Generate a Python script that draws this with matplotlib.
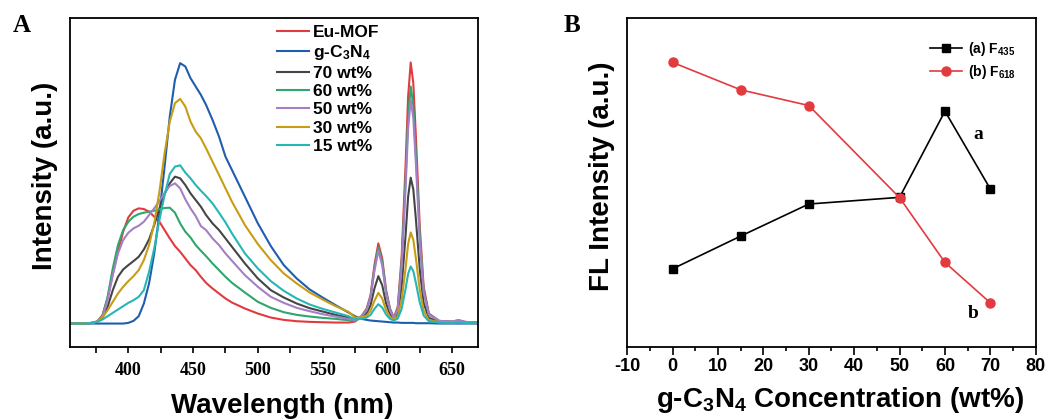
import matplotlib
matplotlib.use("Agg")
import matplotlib.pyplot as plt
from matplotlib.ticker import MultipleLocator

plt.rcParams["font.family"] = ["Liberation Sans", "DejaVu Sans"]
plt.rcParams["font.weight"] = "bold"
plt.rcParams["axes.unicode_minus"] = False
plt.rcParams["mathtext.fontset"] = "custom"
plt.rcParams["mathtext.rm"] = "Liberation Sans:bold"
plt.rcParams["mathtext.it"] = "Liberation Sans:bold"
plt.rcParams["mathtext.bf"] = "Liberation Sans:bold"

# ---- panel A: emission spectra (a.u.) ----
wavelength = [355, 365, 372, 376, 380, 384, 388, 392, 396, 400, 404, 408, 412, 416,
              420, 424, 428, 432, 436, 440, 444, 448, 452, 456, 460, 465, 470, 475,
              480, 490, 500, 510, 520, 530, 540, 550, 560, 570,
              575, 580, 584, 587, 590, 593, 596, 599, 602, 605, 608, 611, 614, 616,
              618, 620, 622, 625, 628, 632, 640, 650, 655, 660, 670]

eu_mof = [0, 0, 2, 6, 25, 75, 150, 215, 275, 318, 338, 345, 343, 335,
          320, 305, 280, 255, 232, 215, 195, 175, 160, 140, 122, 105, 90, 75,
          63, 45, 30, 18, 11, 7, 5, 4, 3, 3,
          6, 22, 45, 85, 175, 240, 195, 100, 45, 18, 50, 200, 470, 680,
          782, 720, 560, 290, 110, 30, 8, 6, 10, 5, 3]
g_c3n4 = [0, 0, 0, 0, 0, 0, 0, 0, 0, 2, 8, 22, 60, 120,
          210, 330, 470, 620, 730, 780, 770, 735, 710, 685, 655, 610, 560, 500,
          460, 380, 300, 232, 175, 135, 102, 78, 55, 33,
          22, 14, 11, 9, 8, 7, 6, 5, 4, 3, 3, 2, 2, 2,
          2, 2, 1, 1, 1, 1, 0, 0, 0, 0, 0]
wt70 = [0, 0, 2, 6, 18, 50, 100, 140, 162, 175, 187, 200, 222, 252,
        295, 345, 388, 420, 440, 435, 415, 390, 370, 350, 325, 300, 280, 255,
        230, 180, 135, 100, 78, 60, 46, 36, 26, 18,
        12, 20, 30, 55, 105, 142, 115, 60, 28, 14, 30, 111, 262, 380,
        437, 402, 313, 162, 61, 17, 5, 4, 6, 3, 2]
wt60 = [0, 0, 2, 6, 22, 80, 165, 235, 280, 305, 320, 328, 332, 335,
        338, 342, 346, 347, 332, 300, 275, 258, 235, 218, 202, 180, 160, 140,
        122, 93, 65, 47, 34, 26, 21, 17, 14, 10,
        8, 20, 42, 80, 165, 228, 185, 95, 42, 17, 45, 181, 426, 618,
        710, 653, 508, 263, 99, 28, 7, 5, 8, 4, 2]
wt50 = [0, 0, 2, 6, 20, 70, 145, 210, 250, 272, 285, 293, 305, 325,
        345, 367, 392, 412, 420, 405, 372, 345, 322, 292, 280, 255, 235, 210,
        188, 145, 110, 80, 62, 47, 37, 28, 21, 14,
        10, 22, 40, 78, 158, 218, 175, 90, 40, 17, 43, 171, 402, 583,
        670, 616, 480, 248, 94, 27, 8, 6, 10, 5, 3]
wt30 = [0, 0, 2, 6, 18, 40, 65, 90, 110, 127, 142, 160, 190, 235,
        300, 395, 510, 605, 660, 673, 650, 605, 575, 555, 525, 485, 445, 405,
        365, 295, 238, 190, 150, 120, 93, 72, 52, 35,
        18, 18, 24, 38, 68, 92, 75, 40, 20, 12, 22, 70, 164, 238,
        273, 251, 195, 101, 38, 11, 4, 3, 4, 2, 1]
wt15 = [0, 0, 2, 5, 12, 22, 32, 42, 52, 62, 70, 80, 100, 155,
        225, 310, 385, 448, 470, 474, 452, 435, 415, 398, 382, 360, 332, 303,
        270, 210, 165, 127, 98, 75, 57, 44, 33, 22,
        12, 14, 18, 26, 44, 58, 48, 27, 14, 9, 15, 44, 103, 149,
        171, 157, 122, 63, 24, 7, 3, 2, 3, 2, 1]

spectra = [eu_mof, g_c3n4, wt70, wt60, wt50, wt30, wt15]
spectra_labels = ["Eu-MOF", "g-C$_3$N$_4$", "70 wt%", "60 wt%", "50 wt%", "30 wt%", "15 wt%"]
spectra_colors = ["#E23B3F", "#1F5DAE", "#454545", "#2EA66C", "#A47FC6", "#C89D14", "#27B6B6"]

# ---- panel B: FL intensity vs g-C3N4 loading ----
conc = [0, 15, 30, 50, 60, 70]
f435 = [234, 332, 428, 448, 706, 473]
f618 = [852, 770, 723, 447, 253, 132]

fig = plt.figure(figsize=(10.5, 4.2), dpi=100)
ax1 = fig.add_axes([0.0667, 0.174, 0.3886, 0.783])
ax2 = fig.add_axes([0.5974, 0.174, 0.3890, 0.783])

for y, lab, col in zip(spectra, spectra_labels, spectra_colors):
    ax1.plot(wavelength, y, color=col, lw=1.5, label=lab)

ax1.set_xlim(355, 670)
ax1.set_ylim(-70, 915)
ax1.xaxis.set_major_locator(MultipleLocator(50))
ax1.xaxis.set_minor_locator(MultipleLocator(25))
ax1.tick_params(axis="x", which="both", direction="out", length=4, width=1.2, pad=7)
ax1.set_yticks([])
for lbl in ax1.get_xticklabels():
    lbl.set_fontfamily("Liberation Serif")
    lbl.set_fontweight("bold")
    lbl.set_fontsize(13)
ax1.set_xlabel("Wavelength (nm)", fontsize=20, fontweight="bold")
ax1.set_ylabel("Intensity (a.u.)", fontsize=20, fontweight="bold")
ax1.xaxis.set_label_coords(0.519, -0.14)
ax1.yaxis.set_label_coords(-0.03, 0.52)
ax1.legend(loc="upper left", bbox_to_anchor=(0.2635, 0.94), bbox_transform=fig.transFigure,
           frameon=False, fontsize=12.5, handlelength=1.85, handletextpad=0.25,
           labelspacing=0.18, borderpad=0, borderaxespad=0)

ax2.plot(conc, f435, color="black", lw=1.2, marker="s", ms=5.5, label="(a) F$_{435}$")
ax2.plot(conc, f618, color="#E23B3F", lw=1.2, marker="o", ms=6.5, label="(b) F$_{618}$")
ax2.set_xlim(-10, 80)
ax2.set_ylim(0, 985)
ax2.xaxis.set_major_locator(MultipleLocator(10))
ax2.xaxis.set_minor_locator(MultipleLocator(5))
ax2.tick_params(axis="x", which="major", direction="out", length=6, width=1.2, pad=2, labelsize=13)
ax2.tick_params(axis="x", which="minor", direction="out", length=3, width=1.2)
for lbl in ax2.get_xticklabels():
    lbl.set_fontweight("bold")
ax2.set_yticks([])
ax2.set_xlabel("g-C$_3$N$_4$ Concentration (wt%)", fontsize=20, fontweight="bold")
ax2.set_ylabel("FL Intensity (a.u.)", fontsize=20, fontweight="bold")
ax2.xaxis.set_label_coords(0.521, -0.115)
ax2.yaxis.set_label_coords(-0.030, 0.52)
ax2.legend(loc="upper left", bbox_to_anchor=(0.8857, 0.904), bbox_transform=fig.transFigure,
           frameon=False, fontsize=10, handlelength=2.3, handletextpad=0.45,
           labelspacing=0.35, borderpad=0, borderaxespad=0, numpoints=1)
ax2.text(67.4, 635, "a", fontsize=14, fontweight="bold", family="Liberation Serif",
         ha="center", va="center")
ax2.text(66.3, 100, "b", fontsize=14, fontweight="bold", family="Liberation Serif",
         ha="center", va="center")

for ax in (ax1, ax2):
    for s in ax.spines.values():
        s.set_linewidth(1.3)

fig.text(0.021, 0.94, "A", fontsize=18, fontweight="bold", family="Liberation Serif",
         ha="center", va="center")
fig.text(0.545, 0.94, "B", fontsize=18, fontweight="bold", family="Liberation Serif",
         ha="center", va="center")

fig.savefig("out.png", dpi=100)
